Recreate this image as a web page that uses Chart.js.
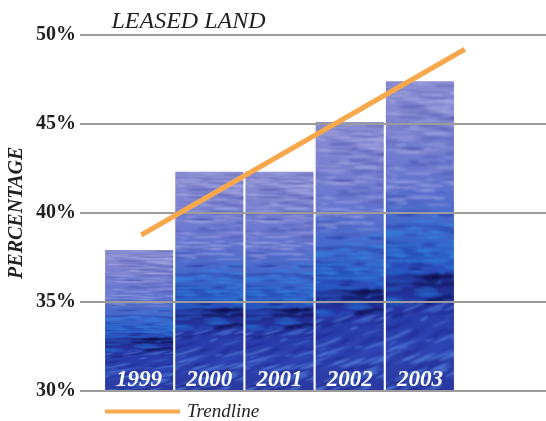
<!DOCTYPE html>
<html>
<head>
<meta charset="utf-8">
<title>Leased Land</title>
<script src="https://cdn.jsdelivr.net/npm/chart.js@4.4.1/dist/chart.umd.min.js"></script>
<style>
  html, body { margin: 0; padding: 0; background: #ffffff; }
  #wrap { width: 546px; height: 421px; }
</style>
</head>
<body>
<div id="wrap"><canvas id="chart" width="546" height="421"></canvas></div>
<script>
// ---- data ----
const chartTitle = 'LEASED LAND';
const axisTitle = 'PERCENTAGE';
const years = ['1999', '2000', '2001', '2002', '2003'];
const leasedShare = [37.9, 42.3, 42.3, 45.1, 47.4];   // percent of land leased
const trendX = [0.03, 4.64];                           // category position of trendline ends
const trendY = [38.75, 49.2];                          // trendline values (percent)
const yTicks = [30, 35, 40, 45, 50];
const trendLabel = 'Trendline';

// ---- style ----
const ORANGE = '#f7a84d';
const GRID = '#9b9b9b';
const INK = '#231f20';
const SERIF = '"Liberation Serif", "Times New Roman", serif';
const BAR_PCT = 0.97;

// small deterministic hash for the water texture streaks
function hash(n) {
  const s = Math.sin(n * 127.1 + 311.7) * 43758.5453;
  return s - Math.floor(s);
}

// paints a stylised sea-water texture used to fill every bar
function buildWaterTexture() {
  const W = 80, H = 320;
  const c = document.createElement('canvas');
  c.width = W; c.height = H;
  const g = c.getContext('2d');
  const base = g.createLinearGradient(0, 0, 0, H);
  [[0, '#8b8ed2'], [0.12, '#7f84cf'], [0.3, '#6877cf'], [0.45, '#4669cb'],
   [0.55, '#2f60c7'], [0.61, '#2a4dbb'], [0.66, '#1f2a8c'], [0.71, '#2638a6'],
   [0.85, '#2d44b3'], [1, '#2a379f']].forEach(([o, col]) => base.addColorStop(o, col));
  g.fillStyle = base;
  g.fillRect(0, 0, W, H);
  g.filter = 'blur(0.9px)';
  for (let i = 0; i < 420; i++) {
    const y = hash(i) * H;
    const x = hash(i + 1000) * W * 1.3 - 12;
    const len = 8 + hash(i + 2000) * 32;
    let th = 0.8 + hash(i + 3000) * 2.4;
    const light = hash(i + 4000) > 0.45;
    const f = y / H;
    let col, rot = 0;
    if (f < 0.42) col = light ? 'rgba(180,182,236,0.5)' : 'rgba(66,74,170,0.42)';
    else if (f < 0.6) col = light ? 'rgba(50,145,232,0.6)' : 'rgba(30,42,150,0.5)';
    else if (f < 0.72) { col = light ? 'rgba(40,110,210,0.45)' : 'rgba(12,12,72,0.55)'; th *= 1.8; }
    else { col = light ? 'rgba(98,152,236,0.6)' : 'rgba(28,36,135,0.45)'; rot = -0.35; }
    g.fillStyle = col;
    g.beginPath();
    g.ellipse(x, y, len / 2, th / 2, rot, 0, Math.PI * 2);
    g.fill();
  }
  g.filter = 'none';
  return c;
}
const waterTex = buildWaterTexture();

// stretches the texture over each bar, from its top down to the axis floor
function waterFill(ctx) {
  const chart = ctx.chart;
  const xs = chart.scales.x, ys = chart.scales.y;
  if (ctx.type !== 'data' || !chart.chartArea || !xs || !ys) return '#3a5cc4';
  const center = xs.getPixelForValue(ctx.dataIndex);
  const w = xs.width / years.length * BAR_PCT;
  const top = ys.getPixelForValue(ctx.raw);
  const bottom = ys.getPixelForValue(ys.min);
  const p = chart.ctx.createPattern(waterTex, 'no-repeat');
  p.setTransform(new DOMMatrix()
    .translateSelf(center - w / 2 - 1, top - 1)
    .scaleSelf((w + 2) / waterTex.width, (bottom - top + 2) / waterTex.height));
  return p;
}

// horizontal rules sit on top of the bars but under the trendline
const gridOverBars = {
  id: 'gridOverBars',
  afterDatasetDraw(chart, args) {
    if (args.index === 0) chart.scales.y.drawGrid(chart.chartArea);
  }
};

// year names written inside the foot of each bar, plus title and legend
const annotations = {
  id: 'annotations',
  afterDatasetsDraw(chart) {
    const { ctx, chartArea } = chart;
    const xs = chart.scales.x;
    ctx.save();
    ctx.fillStyle = '#ffffff';
    ctx.font = 'italic bold 23px ' + SERIF;
    ctx.textAlign = 'center';
    ctx.textBaseline = 'alphabetic';
    years.forEach((yr, i) => {
      ctx.fillText(yr, xs.getPixelForValue(i), chartArea.bottom - 4.5);
    });
    ctx.restore();
  },
  afterDraw(chart) {
    const { ctx, chartArea } = chart;
    ctx.save();
    ctx.fillStyle = INK;
    ctx.font = 'italic 24px ' + SERIF;
    ctx.textBaseline = 'alphabetic';
    ctx.textAlign = 'left';
    ctx.fillText(chartTitle, chartArea.left + 7.5, 28);

    const ds = chart.data.datasets[1];
    ctx.fillStyle = ds.borderColor;
    ctx.fillRect(chartArea.left + 1, 409.5, 75, 4);
    ctx.fillStyle = INK;
    ctx.font = 'italic 19px ' + SERIF;
    ctx.fillText(ds.label, chartArea.left + 83, 417);
    ctx.restore();
  }
};

new Chart(document.getElementById('chart'), {
  type: 'bar',
  data: {
    labels: years,
    datasets: [
      {
        type: 'bar',
        label: 'Leased land',
        data: leasedShare,
        backgroundColor: waterFill,
        borderWidth: 0,
        grouped: false,
        barPercentage: BAR_PCT,
        categoryPercentage: 1,
        xAxisID: 'x',
        yAxisID: 'y',
        order: 1
      },
      {
        type: 'line',
        label: trendLabel,
        data: trendX.map((x, i) => ({ x: x, y: trendY[i] })),
        xAxisID: 'xt',
        yAxisID: 'y',
        borderColor: ORANGE,
        backgroundColor: ORANGE,
        borderWidth: 5,
        borderCapStyle: 'butt',
        pointRadius: 0,
        tension: 0,
        fill: false,
        clip: false,
        order: 0
      }
    ]
  },
  options: {
    responsive: false,
    animation: false,
    events: [],
    layout: { padding: { top: 35, bottom: 30.5, left: 0, right: 0 } },
    plugins: {
      legend: { display: false },
      tooltip: { enabled: false },
      title: { display: false }
    },
    scales: {
      x: { type: 'category', display: false, offset: true, grid: { display: false } },
      xt: {
        type: 'linear', display: false, offset: false, grid: { offset: false },
        min: -0.5, max: years.length - 0.5
      },
      y: {
        type: 'linear',
        position: 'left',
        min: yTicks[0],
        max: yTicks[yTicks.length - 1],
        ticks: {
          stepSize: yTicks[1] - yTicks[0],
          padding: 4,
          color: INK,
          font: { family: SERIF, size: 20, weight: 'bold' },
          callback: v => v + '%'
        },
        grid: { color: GRID, lineWidth: 2, tickLength: 24 },
        border: { display: false },
        title: {
          display: true,
          text: axisTitle,
          color: INK,
          font: { family: SERIF, size: 20, weight: 'bold', style: 'italic' },
          padding: { top: 4.5, bottom: 0 }
        },
        afterFit: s => { s.width = 104; }
      },
      y2: {
        type: 'linear',
        position: 'right',
        min: yTicks[0],
        max: yTicks[yTicks.length - 1],
        ticks: { display: false, stepSize: yTicks[1] - yTicks[0] },
        grid: { drawOnChartArea: false, color: GRID, lineWidth: 2, tickLength: 91 },
        border: { display: false },
        afterFit: s => { s.width = 91; }
      }
    }
  },
  plugins: [gridOverBars, annotations]
});
</script>
</body>
</html>
